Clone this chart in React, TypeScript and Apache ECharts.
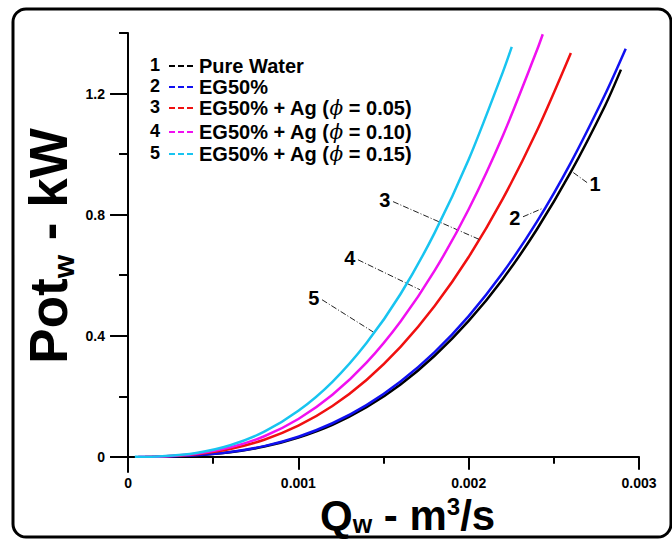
import React, { useEffect, useRef } from "react";
import * as echarts from "echarts";

// ---- Data ----
const seriesNames = [
  "Pure Water",
  "EG50%",
  "EG50% + Ag (ϕ = 0.05)",
  "EG50% + Ag (ϕ = 0.10)",
  "EG50% + Ag (ϕ = 0.15)",
];
const legendRich = [
  "{b|Pure Water}",
  "{b|EG50%}",
  "{b|EG50% + Ag (}{p|ϕ}{b| = 0.05)}",
  "{b|EG50% + Ag (}{p|ϕ}{b| = 0.10)}",
  "{b|EG50% + Ag (}{p|ϕ}{b| = 0.15)}",
];
const seriesColors = ["#000000", "#1010f0", "#f01010", "#f010f0", "#18c4f0"];

// Q in m³/s, Pot in kW
const qPureWater = [0.00016, 0.0002, 0.0004, 0.0006, 0.0008, 0.001, 0.0012, 0.0014, 0.0016, 0.0018, 0.002, 0.0022, 0.0024, 0.0026, 0.0028, 0.002894];
const pPureWater = [0, 0.0007, 0.005, 0.015, 0.034, 0.064, 0.106, 0.164, 0.239, 0.334, 0.449, 0.587, 0.751, 0.941, 1.159, 1.279];

const qEG50 = [0.00014, 0.0002, 0.0004, 0.0006, 0.0008, 0.001, 0.0012, 0.0014, 0.0016, 0.0018, 0.002, 0.0022, 0.0024, 0.0026, 0.0028, 0.002922];
const pEG50 = [0, 0.0007, 0.0051, 0.0159, 0.0355, 0.0665, 0.111, 0.171, 0.249, 0.346, 0.465, 0.608, 0.776, 0.972, 1.196, 1.348];

const qAg005 = [0.0001, 0.0002, 0.0004, 0.0006, 0.0008, 0.001, 0.0012, 0.0014, 0.0016, 0.0018, 0.002, 0.0022, 0.0024, 0.0026];
const pAg005 = [0, 0.0014, 0.0089, 0.0262, 0.0567, 0.103, 0.168, 0.254, 0.363, 0.498, 0.66, 0.852, 1.076, 1.334];

const qAg010 = [0.00006, 0.0002, 0.0004, 0.0006, 0.0008, 0.001, 0.0012, 0.0014, 0.0016, 0.0018, 0.002, 0.0022, 0.0024, 0.002435];
const pAg010 = [0, 0.0016, 0.0104, 0.0313, 0.068, 0.125, 0.205, 0.311, 0.447, 0.615, 0.818, 1.06, 1.342, 1.396];

const qAg015 = [0.00004, 0.0002, 0.0004, 0.0006, 0.0008, 0.001, 0.0012, 0.0014, 0.0016, 0.0018, 0.002, 0.0022, 0.002253];
const pAg015 = [0, 0.002, 0.0128, 0.0383, 0.0831, 0.152, 0.248, 0.376, 0.538, 0.74, 0.982, 1.27, 1.354];

const seriesQ = [qPureWater, qEG50, qAg005, qAg010, qAg015];
const seriesP = [pPureWater, pEG50, pAg005, pAg010, pAg015];

// callout leader lines: label end -> curve end, [Q, P]
const calloutFrom = [
  [0.002695, 0.906],
  [0.002319, 0.793],
  [0.001556, 0.843],
  [0.00135, 0.651],
  [0.001139, 0.519],
];
const calloutTo = [
  [0.002607, 0.942],
  [0.002431, 0.82],
  [0.002067, 0.717],
  [0.001714, 0.552],
  [0.001438, 0.413],
];

const xMajorTicks = [0, 0.001, 0.002, 0.003];
const xMinorTicks = [0.0005, 0.0015, 0.0025];
const yMajorTicks = [0, 0.4, 0.8, 1.2];
const yMinorTicks = [0.2, 0.6, 1.0, 1.4];

const FONT = "'Liberation Sans', Arial, Helvetica, sans-serif";

export default function App() {
  const ref = useRef<HTMLDivElement>(null);

  useEffect(() => {
    if (!ref.current) return;
    const chart = echarts.init(ref.current, undefined, { renderer: "svg" });

    const legendRowY = [66, 87, 108, 132, 154];
    const legendGraphics: any[] = [];
    seriesNames.forEach((_, i) => {
      const y = legendRowY[i];
      legendGraphics.push({
        type: "text",
        x: 150,
        y: y - 1,
        style: {
          text: String(i + 1),
          fontSize: 18,
          fontWeight: "bold",
          fontFamily: FONT,
          fill: "#000",
          verticalAlign: "middle",
          align: "left",
        },
      });
      legendGraphics.push({
        type: "line",
        shape: { x1: 169, y1: y, x2: 196, y2: y },
        style: { stroke: seriesColors[i], lineWidth: 2, lineDash: [6, 3] },
      });
      legendGraphics.push({
        type: "text",
        x: 199,
        y: y,
        style: {
          text: legendRich[i],
          verticalAlign: "middle",
          align: "left",
          rich: {
            b: { fontSize: 20, fontWeight: "bold", fontFamily: FONT, fill: "#000" },
            p: { fontSize: 20, fontStyle: "italic", fontFamily: "'DejaVu Serif', serif", fill: "#000" },
          },
        },
      });
    });

    const option: any = {
      animation: false,
      backgroundColor: "#ffffff",
      grid: { left: 111, top: 33, width: 528, height: 439, outerBoundsMode: "none", containLabel: false },
      xAxis: [
        {
          type: "value",
          min: -0.0001,
          max: 0.003,
          position: "bottom",
          axisLine: { show: true, onZero: true, onZeroAxisIndex: 0, lineStyle: { color: "#000", width: 2 } },
          axisTick: { show: true, customValues: xMajorTicks, length: 13, lineStyle: { color: "#000", width: 2 } },
          axisLabel: {
            show: true,
            customValues: xMajorTicks,
            formatter: (v: number) => (v === 0 ? "0" : v.toFixed(3)),
            fontSize: 14,
            fontWeight: "bold",
            fontFamily: FONT,
            color: "#000",
            margin: 4,
          },
          splitLine: { show: false },
        },
        {
          type: "value",
          min: -0.0001,
          max: 0.003,
          position: "top",
          axisLine: { show: false, onZero: true, onZeroAxisIndex: 1 },
          axisTick: { show: true, inside: true, customValues: xMinorTicks, length: 7, lineStyle: { color: "#000", width: 2 } },
          axisLabel: { show: false },
          splitLine: { show: false },
        },
      ],
      yAxis: [
        {
          type: "value",
          min: -0.05,
          max: 1.4,
          position: "left",
          axisLine: { show: true, onZero: true, onZeroAxisIndex: 0, lineStyle: { color: "#000", width: 2 } },
          axisTick: { show: true, customValues: yMajorTicks, length: 18, lineStyle: { color: "#000", width: 2 } },
          axisLabel: {
            show: true,
            customValues: yMajorTicks,
            formatter: (v: number) => (v === 0 ? "0" : v.toFixed(1)),
            fontSize: 14,
            fontWeight: "bold",
            fontFamily: FONT,
            color: "#000",
            margin: 6,
          },
          splitLine: { show: false },
        },
        {
          type: "value",
          min: -0.05,
          max: 1.4,
          position: "right",
          axisLine: { show: false, onZero: true, onZeroAxisIndex: 1 },
          axisTick: { show: true, inside: true, customValues: yMinorTicks, length: 9, lineStyle: { color: "#000", width: 2 } },
          axisLabel: { show: false },
          splitLine: { show: false },
        },
      ],
      series: seriesNames.map((name, i) => ({
        name,
        type: "line",
        xAxisIndex: 0,
        yAxisIndex: 0,
        showSymbol: false,
        symbol: "none",
        smooth: 0.3,
        z: 2 + i,
        lineStyle: { color: seriesColors[i], width: 2.5 },
        data: seriesQ[i].map((q, k) => [q, seriesP[i][k]]),
        markLine: {
          silent: true,
          symbol: ["none", "none"],
          lineStyle: { color: "#222", width: 1, type: [6, 2, 1, 2] },
          label: {
            show: true,
            position: "start",
            formatter: String(i + 1),
            fontSize: 20,
            fontWeight: "bold",
            fontFamily: FONT,
            color: "#000",
            distance: 3,
          },
          data: [[{ coord: calloutFrom[i] }, { coord: calloutTo[i] }]],
        },
      })),
      graphic: [
        {
          type: "rect",
          z: -10,
          shape: { x: 13, y: 9, width: 658, height: 528, r: 13 },
          style: { fill: "none", stroke: "#000", lineWidth: 3 },
        },
        {
          type: "text",
          x: 48,
          y: 246,
          rotation: Math.PI / 2,
          style: {
            text: "{a|Pot}{s|w}{a| - kW}",
            align: "center",
            verticalAlign: "middle",
            rich: {
              a: { fontSize: 53, fontWeight: "bold", fontFamily: FONT, fill: "#000" },
              s: { fontSize: 30, fontWeight: "bold", fontFamily: FONT, fill: "#000", padding: [30, 0, 0, 0] },
            },
          },
        },
        {
          type: "text",
          x: 320,
          y: 515,
          style: {
            text: "{a|Q}{s|w}{a| - m}{u|3}{a|/s}",
            align: "left",
            verticalAlign: "middle",
            rich: {
              a: { fontSize: 42, lineHeight: 42, fontWeight: "bold", fontFamily: FONT, fill: "#000" },
              s: { fontSize: 25, lineHeight: 17, verticalAlign: "bottom", fontWeight: "bold", fontFamily: FONT, fill: "#000" },
              u: { fontSize: 24, lineHeight: 31, verticalAlign: "top", fontWeight: "bold", fontFamily: FONT, fill: "#000" },
            },
          },
        },
        ...legendGraphics,
      ],
    };

    chart.setOption(option);
    return () => chart.dispose();
  }, []);

  return (
    <div
      ref={ref}
      style={{ position: "fixed", left: 0, top: 0, width: 672, height: 540, background: "#fff" }}
    />
  );
}
